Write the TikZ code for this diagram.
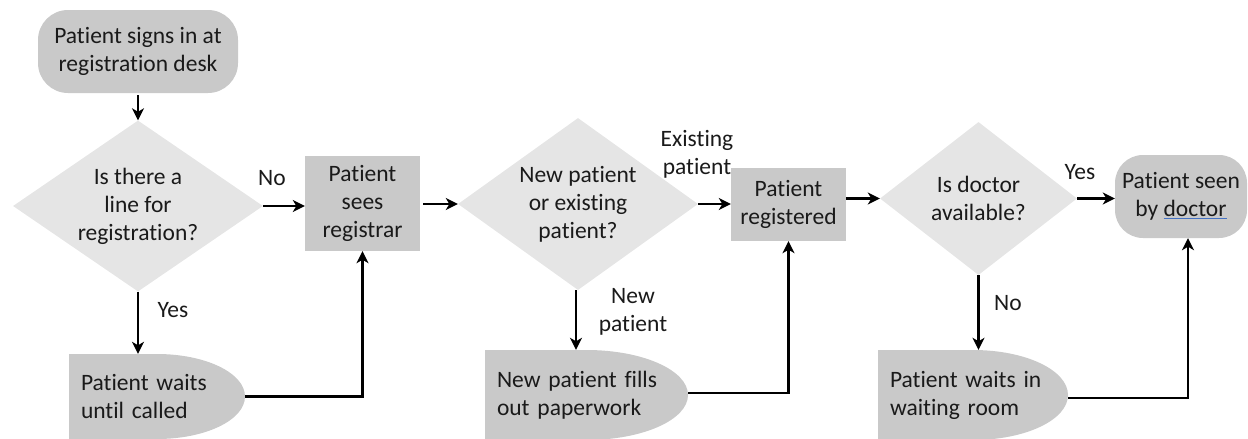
\documentclass[tikz,border=0pt]{standalone}
\usepackage{fontspec}
\setmainfont{Carlito}[Ligatures=NoCommon]
\usetikzlibrary{shapes.geometric,arrows.meta}
\definecolor{dgray}{HTML}{E5E5E5}
\definecolor{bgray}{HTML}{C9C9C9}
\definecolor{ublue}{HTML}{4472C4}
\definecolor{tcol}{HTML}{1A1A1A}
\tikzset{
  every node/.style={font=\fontsize{23.5}{28}\selectfont, text=tcol},
  decision/.style 2 args={shape=diamond, fill=dgray, inner sep=0pt, aspect=1.4, minimum width=#1, minimum height=#2, align=center},
  procbox/.style 2 args={rectangle, fill=bgray, inner sep=0pt, minimum width=#1, minimum height=#2, align=center},
  termbox/.style 2 args={rectangle, fill=bgray, rounded corners=30pt, inner sep=0pt, minimum width=#1, minimum height=#2, align=center},
  delaybox/.style n args={3}{rectangle, inner xsep=12pt, inner ysep=0pt, text width=#3, minimum height=#2, align=left,
    path picture={\fill[bgray] (path picture bounding box.north west) -- (path picture bounding box.north)
      arc[start angle=90, end angle=-90, x radius=#1*0.5pt, y radius=#2*0.5pt] -- (path picture bounding box.south west) -- cycle;}},
  lbl/.style={inner sep=0pt, align=center},
  conn/.style={line width=2.2pt, -{Stealth[length=12pt, width=12pt, inset=3.5pt]}},
}
\begin{document}
\begin{tikzpicture}[x=1pt, y=-1pt]
\useasboundingbox (0,0) rectangle (1248,439);
% nodes
\node[termbox={200}{83}] (t1) at (138,51.5) {Patient signs in at\\registration desk};
\node[decision={250}{171}] (d1) at (138,206) {Is there a\\line for\\registration?};
\node[procbox={115}{95}] (p1) at (362.5,203.5) {Patient\\sees\\registrar};
\node[delaybox={176}{85}{152pt}] (w1) at (157,396.5) {Patient waits\\until called};
\node[decision={240}{172}] (d2) at (578,204) {New patient\\or existing\\patient?};
\node[procbox={115}{73}] (p2) at (788.5,204.5) {Patient\\registered};
\node[delaybox={203}{90}{179pt}] (w2) at (586.5,395) {New patient fills\\out paperwork};
\node[decision={197}{153}] (d3) at (978.5,198.5) {Is doctor\\available?};
\node[termbox={132}{83}, rounded corners=28pt] (t2) at (1181,196.5) {Patient seen\\by {\color{ublue}\underline{\textcolor{tcol}{doctor}}}};
\node[delaybox={190}{90}{166pt}] (w3) at (973,395) {Patient waits in\\waiting room};
% labels
\node[lbl] (l1) at (272,178) {No};
\node[lbl] (l2) at (173,310) {Yes};
\node[lbl] (l3) at (697,154) {Existing\\patient};
\node[lbl] (l4) at (633,312) {New\\patient};
\node[lbl] (l5) at (1080,172) {Yes};
\node[lbl] (l6) at (1008,303) {No};
% connectors
\draw[conn] ([yshift=-2pt]t1.south) -- (d1.north);
\draw[conn] (d1.east) -- (d1.east -| p1.west);
\draw[conn] (d1.south) -- (d1.south |- w1.north);
\draw[conn] (w1.east) -| (p1.south);
\draw[conn] ([xshift=3pt]p1.east |- d2.west) -- (d2.west);
\draw[conn] (d2.east) -- (d2.east -| p2.west);
\draw[conn] ([xshift=-2pt]d2.south) -- ([xshift=-2pt]d2.south |- w2.north);
\draw[conn] ([yshift=2pt]w2.east) -| (p2.south);
\draw[conn] (p2.east |- d3.west) -- (d3.west);
\draw[conn] (d3.east) -- (d3.east -| t2.west);
\draw[conn] (d3.south) -- (d3.south |- w3.north);
\draw[conn] ([yshift=-3pt]w3.east) -| ([xshift=7pt]t2.south);
\end{tikzpicture}
\end{document}
